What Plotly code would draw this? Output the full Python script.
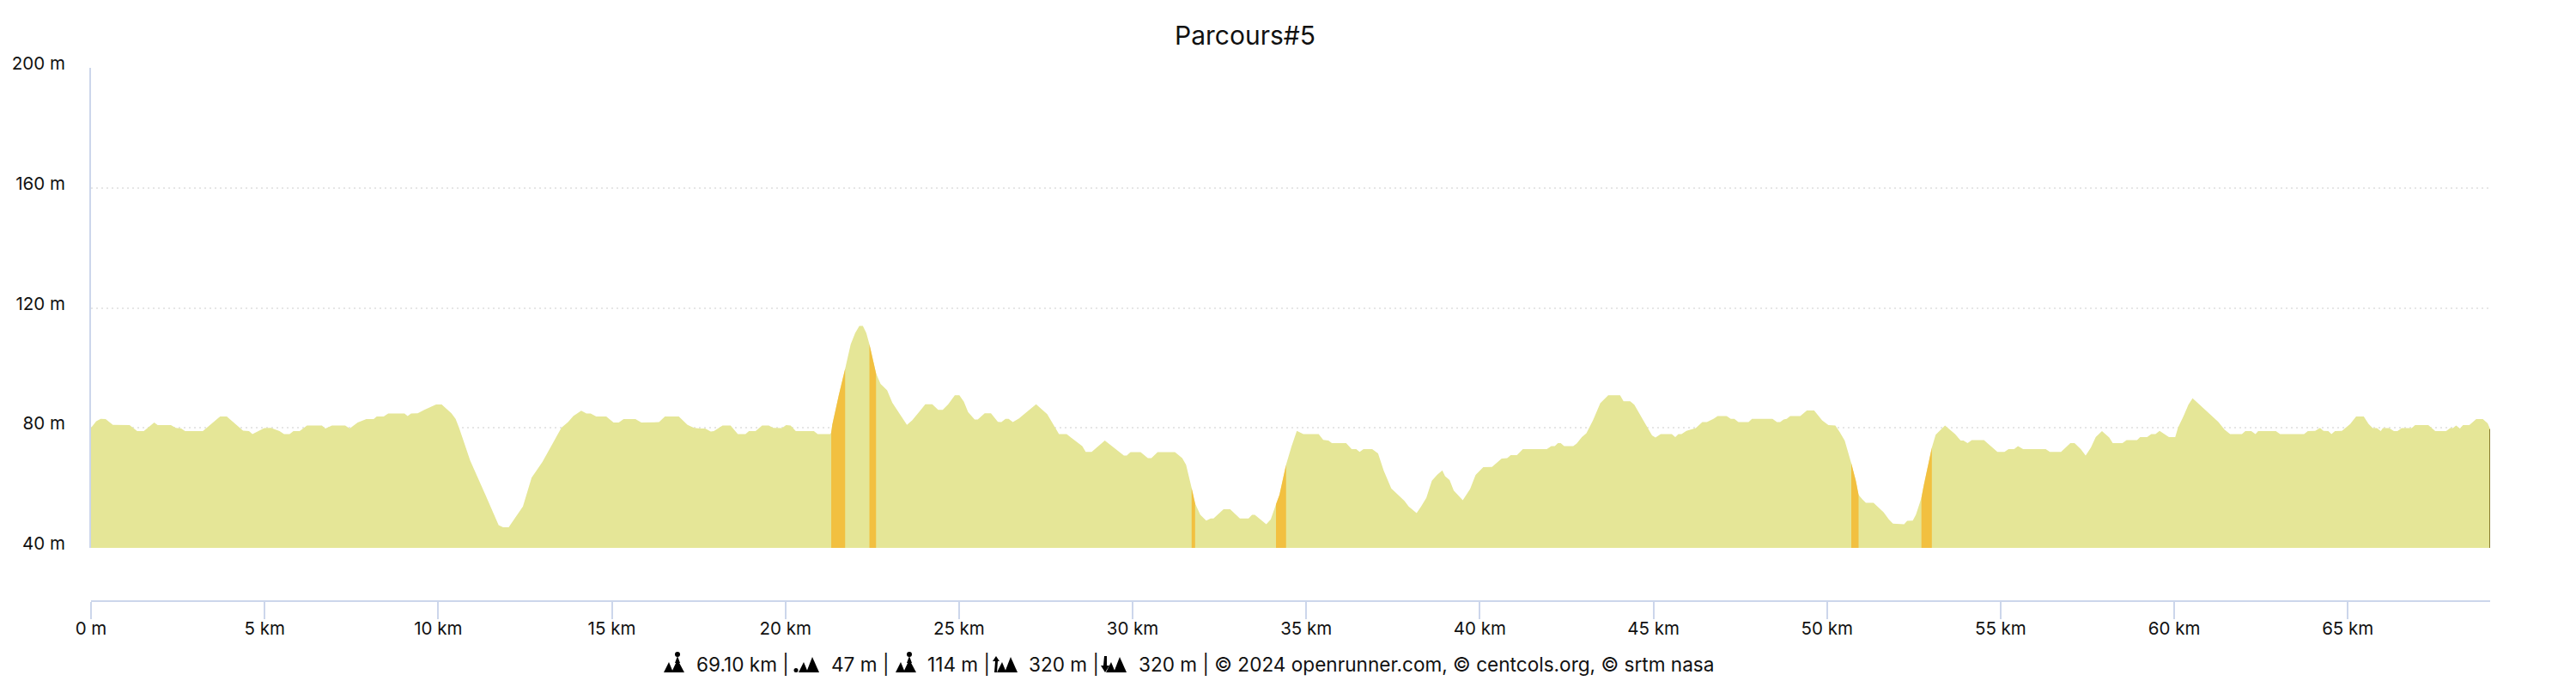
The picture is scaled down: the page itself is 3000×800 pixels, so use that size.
import base64
import plotly.graph_objects as go

TITLE = "Parcours#5"

distance_km = [
    0, .15, .28, .42, .63, 1.11, 1.33, 1.52, 1.82, 1.92, 2.30, 2.44, 2.60, 2.71, 3.22, 3.72, 3.91, 4.38, 4.55, 4.65,
    4.99, 5.18, 5.43, 5.56, 5.72, 5.83, 6.01, 6.22, 6.65, 6.75, 6.94, 7.32, 7.45, 7.68, 7.93, 8.14, 8.23, 8.43, 8.56,
    9.03, 9.12, 9.22, 9.41, 9.6, 9.79, 9.94, 10.1, 10.38, 10.5, 10.6, 10.92, 11.36, 11.74, 11.87, 12.03, 12.44, 12.69,
    13.0, 13.32, 13.55, 13.74, 13.89, 14.12, 14.27, 14.39, 14.55, 14.84, 15.05, 15.2, 15.34, 15.68, 15.85, 16.36,
    16.53, 16.93, 17.18, 17.37, 17.54, 17.69, 17.85, 17.94, 18.19, 18.42, 18.63, 18.85, 18.95, 19.14, 19.33, 19.52,
    19.65, 19.9, 20.02, 20.15, 20.3, 20.82, 20.93, 21.29, 21.32, 21.35, 21.54, 21.72, 21.88, 22.01, 22.13, 22.23,
    22.33, 22.42, 22.61, 22.74, 22.93, 23.08, 23.5, 23.65, 23.85, 24.03, 24.23, 24.4, 24.53, 24.69, 24.88, 25.01,
    25.14, 25.26, 25.45, 25.54, 25.74, 25.92, 26.12, 26.22, 26.34, 26.43, 26.55, 26.72, 27.22, 27.54, 27.88, 28.1,
    28.55, 28.65, 28.82, 29.2, 29.75, 29.83, 29.94, 30.23, 30.44, 30.54, 30.72, 31.22, 31.43, 31.54, 31.7, 31.8,
    31.95, 32.12, 32.25, 32.33, 32.62, 32.81, 33.09, 33.34, 33.44, 33.52, 33.85, 33.98, 34.13, 34.23, 34.42, 34.58,
    34.73, 34.92, 35.36, 35.49, 35.64, 35.74, 36.15, 36.31, 36.44, 36.54, 36.65, 36.9, 37.07, 37.23, 37.45, 37.83,
    37.95, 38.18, 38.31, 38.46, 38.62, 38.77, 38.92, 39.0, 39.13, 39.25, 39.51, 39.72, 39.88, 40.1, 40.35, 40.63,
    40.79, 40.89, 41.07, 41.24, 41.93, 42.06, 42.16, 42.25, 42.33, 42.43, 42.69, 42.79, 42.94, 43.07, 43.26, 43.47,
    43.7, 44.04, 44.14, 44.33, 44.45, 44.71, 44.96, 45.06, 45.21, 45.53, 45.63, 45.72, 45.81, 45.95, 46.22, 46.41,
    46.54, 46.73, 46.85, 47.11, 47.23, 47.33, 47.45, 47.74, 47.84, 48.43, 48.56, 48.65, 48.75, 48.84, 48.94, 49.23,
    49.42, 49.63, 49.86, 50.04, 50.24, 50.36, 50.51, 50.7, 50.83, 50.91, 51.02, 51.12, 51.34, 51.63, 51.78, 51.9,
    52.22, 52.31, 52.47, 52.56, 52.72, 52.79, 53.02, 53.13, 53.4, 53.69, 53.85, 53.93, 54.05, 54.17, 54.52, 54.91,
    55.11, 55.23, 55.39, 55.5, 55.65, 56.3, 56.42, 56.74, 57.01, 57.13, 57.31, 57.45, 57.6, 57.74, 57.92, 58.13,
    58.23, 58.51, 58.63, 58.93, 59.02, 59.22, 59.34, 59.46, 59.58, 59.85, 60.03, 60.11, 60.27, 60.41, 60.53, 61.27,
    61.45, 61.61, 61.95, 62.05, 62.22, 62.34, 62.42, 62.93, 63.05, 63.74, 63.85, 64.06, 64.2, 64.3, 64.44, 64.53,
    64.63, 64.83, 65.07, 65.24, 65.46, 65.6, 65.72, 65.84, 65.95, 66.01, 66.19, 66.33, 66.43, 66.55, 66.84, 66.94,
    67.32, 67.52, 67.83, 67.95, 68.03, 68.12, 68.23, 68.32, 68.5, 68.7, 68.89, 69.03, 69.1,
]
elevation_m = [
    80, 82.2, 83, 82.9, 81, 80.9, 78.9, 78.9, 81.8, 80.9, 80.9, 80, 79.8, 78.9, 78.9, 83.8, 83.8, 79.1, 78.9, 77.9,
    79.9, 80, 78.9, 77.9, 77.9, 78.9, 78.9, 80.8, 80.8, 79.8, 80.8, 80.8, 79.8, 81.8, 82.9, 82.9, 83.8, 83.8, 84.8,
    84.8, 83.9, 84.8, 84.9, 86, 87, 87.8, 87.8, 84.9, 83, 80.1, 69.1, 57.7, 47.6, 46.9, 46.9, 53.8, 63.4,
    68.6, 75.3, 80.1, 81.9, 83.9, 85.7, 84.8, 84.8, 83.8, 83.8, 81.8, 81.8, 82.9, 82.9, 81.8, 81.9,
    83.8, 83.8, 81, 80, 79.8, 79.8, 78.8, 78.9, 80.8, 80.8, 77.9, 77.9, 78.9, 78.9, 80.8, 80.8,
    80, 79.9, 80.9, 80.8, 78.9, 78.9, 77.9, 77.9, 78.5, 81, 91, 99.7, 107.8, 111.6, 114, 114,
    111.6, 107.8, 98.2, 94.7, 92.5, 88.4, 81, 82.5, 85.3, 87.9, 87.9, 86, 86, 87.9, 90.9, 90.9,
    88.7, 85.3, 82.8, 82.8, 84.9, 84.9, 82, 81.9, 83, 83, 81.9, 83.1, 87.9, 84.6, 77.9, 77.9,
    73.9, 72, 72, 75.8, 70.8, 70.8, 71.9, 71.9, 69.9, 69.9, 71.9, 71.9, 69.9, 67.7, 60, 54.8,
    51, 49.1, 49.8, 49.8, 52.9, 52.9, 49.8, 49.8, 51, 51, 47.9, 49.5, 54.5, 57.7, 67.7, 73.9,
    79, 77.9, 77.9, 76, 75.8, 74.9, 74.9, 72.9, 72.9, 72, 72.9, 72.9, 71.5, 65.8, 59.8, 55.7,
    53.8, 51.6, 53.8, 56.7, 62.4, 64.3, 65.8, 63.9, 62.6, 59.1, 55.9, 59.6, 64.3, 66.9, 67, 69.8,
    69.9, 70.9, 70.9, 72.9, 72.9, 73.9, 73.9, 74.9, 74.9, 73.9, 73.9, 74.8, 76.9, 78.2, 82.5, 88.2,
    90.9, 90.9, 88.9, 88.9, 87.7, 82.5, 77.5, 76.8, 77.9, 77.9, 76.9, 77.9, 77.9, 79, 79.9, 81.9,
    81.9, 83, 83.9, 83.9, 83, 83, 81.9, 81.9, 83, 83, 81.9, 81.9, 82.8, 83, 83.9, 83.9,
    85.8, 85.8, 82.5, 80.9, 80.8, 78.7, 75.8, 68.2, 62.4, 57.7, 56.2, 55, 55, 51.9, 49.5, 48.1,
    47.9, 49, 49.1, 51, 56.7, 61, 73.4, 77.7, 80.8, 77.9, 75.8, 75.8, 74.9, 75.9, 75.9, 72,
    72, 72.9, 72.9, 73.9, 72.9, 72.9, 72, 72, 74.9, 74.9, 72.9, 70.8, 73.4, 76.9, 78.9, 76.8,
    74.9, 74.9, 75.9, 75.9, 76.9, 76.9, 77.9, 77.9, 79, 76.9, 76.9, 80.1, 83.9, 87.7, 89.9, 82,
    79.4, 77.9, 77.9, 78.9, 78.9, 77.9, 78.9, 78.9, 77.9, 77.9, 78.9, 79, 80, 79, 78.9, 77.9,
    78.9, 79, 81.3, 83.8, 83.8, 81.3, 79.9, 79.9, 78.9, 79.9, 79.9, 78.9, 78.9, 79.9, 79.9, 80.9,
    80.9, 78.9, 78.9, 79.9, 79.9, 80.8, 79.8, 80.9, 80.9, 82.9, 82.9, 81.5, 79.6,
]

# steep parts of the route, start and end km
steep_sections = [(21.32, 21.72), (22.42, 22.61), (31.7, 31.8), (34.13, 34.42), (50.7, 50.91), (52.72, 53.02)]

x_tick_km = list(range(0, 70, 5))
x_tick_text = ["0 m"] + [f"{k} km" for k in x_tick_km[1:]]
y_tick_m = [40, 80, 120, 160, 200]
y_tick_text = [f"{v} m" for v in y_tick_m]

footer_texts = ["69.10 km |", "47 m |", "114 m |", "320 m |",
                "320 m | © 2024 openrunner.com, © centcols.org, © srtm nasa"]
footer_text_px = [809, 966, 1078, 1196, 1324]

# the page body adds 8px around the figure, all pixel positions below are screen positions
PAGE = 8
WIDTH, HEIGHT = 3000 - 2 * PAGE, 800 - 2 * PAGE
LEFT, RIGHT, TOP, BOTTOM = 106 - PAGE, 2900 - PAGE, 79 - PAGE, 700 - PAGE
AREA = "#e5e697"
STEEP = "#f2c040"
AXIS = "#ccd6eb"
FONT = "Inter"


def px(x):
    return (x - PAGE - LEFT) / (RIGHT - LEFT)


def py(y):
    return (BOTTOM - (y - PAGE)) / (BOTTOM - TOP)


def svg_icon(shapes, w):
    svg = f'<svg xmlns="http://www.w3.org/2000/svg" viewBox="0 0 {w} 24" width="{w}" height="24">{shapes}</svg>'
    return "data:image/svg+xml;base64," + base64.b64encode(svg.encode()).decode()


PEAKS = '<path d="M0 24L6 12L11 24Z"/><path d="M9 24L16 6L24 24Z"/>'
PERSON = ('<circle cx="16" cy="3" r="3"/><path d="M16 5L13 13L19 13Z"/>'
          '<path d="M0 24L6 12L11 24Z"/><path d="M9 24L16 9L24 24Z"/>')
LOW = f'<circle cx="3" cy="21.500" r="2.500"/><g transform="translate(6 0)">{PEAKS}</g>'
UP = f'<path d="M4 5L0 11L3 11L2 24L5 24L6 11L8 11Z"/><g transform="translate(5 0)">{PEAKS}</g>'
DOWN = f'<path d="M5 24L10 16L7 16L7 5L4 5L3 16L0 16Z"/><g transform="translate(6 0)">{PEAKS}</g>'
icons = [(PERSON, 24, 773), (LOW, 30, 924), (PERSON, 24, 1043), (UP, 29, 1156), (DOWN, 30, 1282)]

fig = go.Figure()

fig.add_trace(go.Scatter(x=distance_km, y=elevation_m, mode="none", fill="tozeroy",
                         fillcolor=AREA, hoverinfo="skip"))

for start, end in steep_sections:
    part = [(d, e) for d, e in zip(distance_km, elevation_m) if start <= d <= end]
    fig.add_trace(go.Scatter(x=[p[0] for p in part], y=[p[1] for p in part], mode="none",
                             fill="tozeroy", fillcolor=STEEP, hoverinfo="skip"))

# thin dark closing edge at the end of the route
fig.add_trace(go.Scatter(x=[distance_km[-1], distance_km[-1]], y=[y_tick_m[0], elevation_m[-1]], mode="lines",
                         line=dict(color="#8a7d2f", width=2), hoverinfo="skip"))

fig.update_layout(
    width=WIDTH,
    height=HEIGHT,
    showlegend=False,
    paper_bgcolor="white",
    plot_bgcolor="white",
    margin=dict(l=LEFT, r=WIDTH - RIGHT, t=TOP, b=HEIGHT - BOTTOM, autoexpand=False),
    font=dict(family=FONT, color="#111111"),
    title=dict(text=TITLE, x=(1450 - PAGE) / WIDTH, xanchor="center", xref="container",
               y=1 - (41 - PAGE) / HEIGHT, yanchor="middle",
               font=dict(family=FONT, size=30, color="#111111")),
    xaxis=dict(
        range=[0, distance_km[-1]],
        tickmode="array", tickvals=x_tick_km, ticktext=x_tick_text,
        ticks="outside", ticklen=20, tickwidth=2, tickcolor=AXIS,
        ticklabelstandoff=-7,
        showline=True, linecolor=AXIS, linewidth=2,
        showgrid=False, zeroline=False,
        anchor="free", position=0,
        tickfont=dict(family=FONT, size=20.5, color="#111111"),
    ),
    yaxis=dict(
        range=[y_tick_m[0], y_tick_m[-1]],
        domain=[(700 - 638) / (700 - 79), 1],
        tickmode="array", tickvals=y_tick_m, ticktext=y_tick_text,
        ticks="outside", ticklen=24, tickwidth=1, tickcolor="rgba(0,0,0,0)",
        ticklabelshift=-5,
        showline=True, linecolor=AXIS, linewidth=2,
        showgrid=True, gridcolor="#e6e6e6", griddash="2px 4px", gridwidth=2,
        zeroline=False,
        tickfont=dict(family=FONT, size=20.5, color="#111111"),
    ),
)

for txt, x0 in zip(footer_texts, footer_text_px):
    fig.add_annotation(text=txt, x=px(x0), y=py(774), xref="paper", yref="paper", xanchor="left", yanchor="middle",
                       showarrow=False, font=dict(family=FONT, size=22.6, color="#111111"))

for shapes, w, x0 in icons:
    fig.add_layout_image(source=svg_icon(shapes, w), xref="paper", yref="paper", x=px(x0), y=py(759),
                         sizex=w / (RIGHT - LEFT), sizey=24 / (BOTTOM - TOP), sizing="stretch",
                         xanchor="left", yanchor="top", layer="above")

fig.write_html("out.html")
